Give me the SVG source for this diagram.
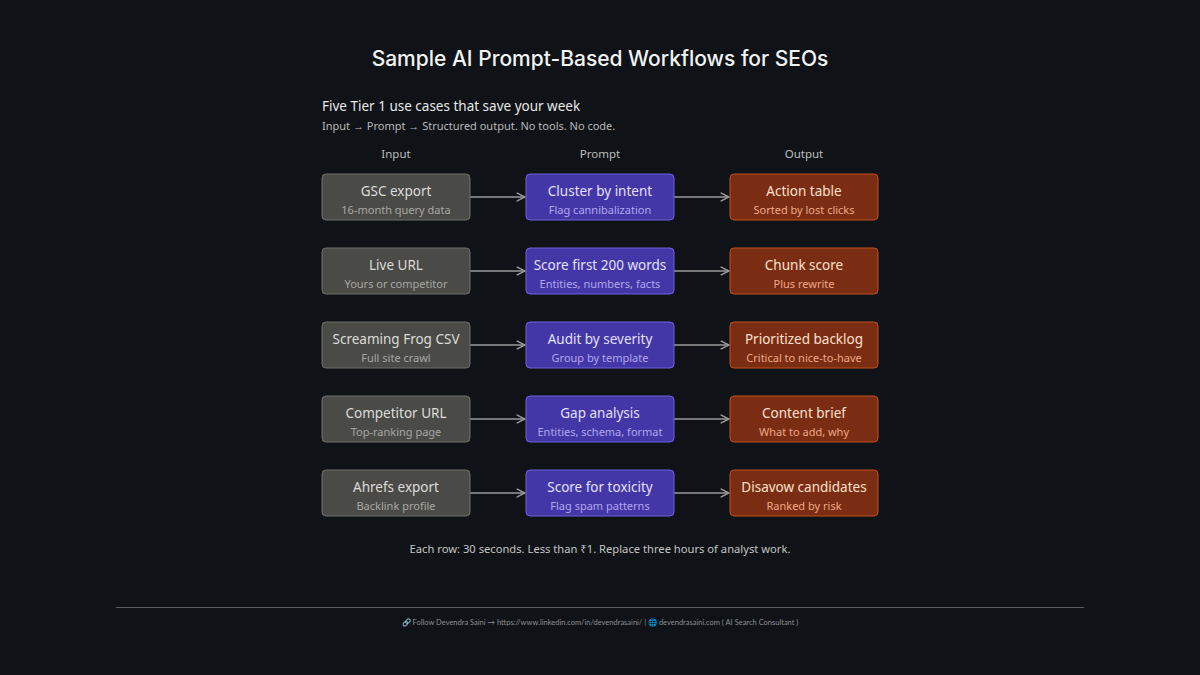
<svg xmlns="http://www.w3.org/2000/svg" width="1200" height="675" viewBox="0 0 1200 675">
<defs>
<style>
text{font-family:"Noto Sans","Open Sans",sans-serif;text-anchor:middle}
.t{fill:#e6e6e6;font-size:13.5px}
.s{font-size:11px}
.in rect{fill:#4a4a47;stroke:#6e6e6a;stroke-width:1}
.in .t{fill:#dcdcd8}.in .s{fill:#a8a8a2}
.pr rect{fill:#4336a6;stroke:#6d62dc;stroke-width:1}
.pr .t{fill:#e2e0ff}.pr .s{fill:#b0a8ee}
.out rect{fill:#7a2d12;stroke:#c2501e;stroke-width:1}
.out .t{fill:#fde0d0}.out .s{fill:#f0a888}
.c line{stroke:#9a9a9a;stroke-width:1.3;marker-end:url(#a)}
.h{fill:#bdbdbd;font-size:11.5px}
</style>
<marker id="a" viewBox="0 0 10 10" refX="9" refY="5" markerWidth="8" markerHeight="8" orient="auto"><path d="M1,1L9,5L1,9" fill="none" stroke="#9a9a9a" stroke-width="1.4"/></marker>
</defs>
<rect width="1200" height="675" fill="#0f1317"/>
<text x="600" y="66" style="font-family:Inter,sans-serif;font-size:21px;font-weight:500;fill:#f2f2f2">Sample AI Prompt-Based Workflows for SEOs</text>
<text x="322" y="111" style="text-anchor:start;font-size:13.5px;fill:#e8e8e8">Five Tier 1 use cases that save your week</text>
<text x="322" y="130" style="text-anchor:start;font-size:11px;fill:#b8b8b8">Input → Prompt → Structured output. No tools. No code.</text>
<text class="h" x="396" y="158">Input</text>
<text class="h" x="600" y="158">Prompt</text>
<text class="h" x="804" y="158">Output</text>
<g class="c">
<line x1="470" y1="197" x2="525" y2="197"/><line x1="674" y1="197" x2="729" y2="197"/>
<line x1="470" y1="271" x2="525" y2="271"/><line x1="674" y1="271" x2="729" y2="271"/>
<line x1="470" y1="345" x2="525" y2="345"/><line x1="674" y1="345" x2="729" y2="345"/>
<line x1="470" y1="419" x2="525" y2="419"/><line x1="674" y1="419" x2="729" y2="419"/>
<line x1="470" y1="493" x2="525" y2="493"/><line x1="674" y1="493" x2="729" y2="493"/>
</g>
<g id="in1" class="in"><rect x="322" y="174" width="148" height="46" rx="4"/><text class="t" x="396" y="196">GSC export</text><text class="s" x="396" y="214">16-month query data</text></g>
<g id="pr1" class="pr"><rect x="526" y="174" width="148" height="46" rx="4"/><text class="t" x="600" y="196">Cluster by intent</text><text class="s" x="600" y="214">Flag cannibalization</text></g>
<g id="out1" class="out"><rect x="730" y="174" width="148" height="46" rx="4"/><text class="t" x="804" y="196">Action table</text><text class="s" x="804" y="214">Sorted by lost clicks</text></g>
<g id="in2" class="in"><rect x="322" y="248" width="148" height="46" rx="4"/><text class="t" x="396" y="270">Live URL</text><text class="s" x="396" y="288">Yours or competitor</text></g>
<g id="pr2" class="pr"><rect x="526" y="248" width="148" height="46" rx="4"/><text class="t" x="600" y="270">Score first 200 words</text><text class="s" x="600" y="288">Entities, numbers, facts</text></g>
<g id="out2" class="out"><rect x="730" y="248" width="148" height="46" rx="4"/><text class="t" x="804" y="270">Chunk score</text><text class="s" x="804" y="288">Plus rewrite</text></g>
<g id="in3" class="in"><rect x="322" y="322" width="148" height="46" rx="4"/><text class="t" x="396" y="344">Screaming Frog CSV</text><text class="s" x="396" y="362">Full site crawl</text></g>
<g id="pr3" class="pr"><rect x="526" y="322" width="148" height="46" rx="4"/><text class="t" x="600" y="344">Audit by severity</text><text class="s" x="600" y="362">Group by template</text></g>
<g id="out3" class="out"><rect x="730" y="322" width="148" height="46" rx="4"/><text class="t" x="804" y="344">Prioritized backlog</text><text class="s" x="804" y="362">Critical to nice-to-have</text></g>
<g id="in4" class="in"><rect x="322" y="396" width="148" height="46" rx="4"/><text class="t" x="396" y="418">Competitor URL</text><text class="s" x="396" y="436">Top-ranking page</text></g>
<g id="pr4" class="pr"><rect x="526" y="396" width="148" height="46" rx="4"/><text class="t" x="600" y="418">Gap analysis</text><text class="s" x="600" y="436">Entities, schema, format</text></g>
<g id="out4" class="out"><rect x="730" y="396" width="148" height="46" rx="4"/><text class="t" x="804" y="418">Content brief</text><text class="s" x="804" y="436">What to add, why</text></g>
<g id="in5" class="in"><rect x="322" y="470" width="148" height="46" rx="4"/><text class="t" x="396" y="492">Ahrefs export</text><text class="s" x="396" y="510">Backlink profile</text></g>
<g id="pr5" class="pr"><rect x="526" y="470" width="148" height="46" rx="4"/><text class="t" x="600" y="492">Score for toxicity</text><text class="s" x="600" y="510">Flag spam patterns</text></g>
<g id="out5" class="out"><rect x="730" y="470" width="148" height="46" rx="4"/><text class="t" x="804" y="492">Disavow candidates</text><text class="s" x="804" y="510">Ranked by risk</text></g>
<text x="600" y="553" style="font-size:11.2px;fill:#c4c4c4">Each row: 30 seconds. Less than ₹1. Replace three hours of analyst work.</text>
<line x1="116" y1="607.5" x2="1084" y2="607.5" stroke="#5a5e62" stroke-width="1.2"/>
<text x="600" y="625" style="font-family:Lato,sans-serif;font-size:7.5px;fill:#8a8e92">🔗 Follow Devendra Saini → https://www.linkedin.com/in/devendrasaini/  |  🌐 devendrasaini.com ( AI Search Consultant )</text>
</svg>
